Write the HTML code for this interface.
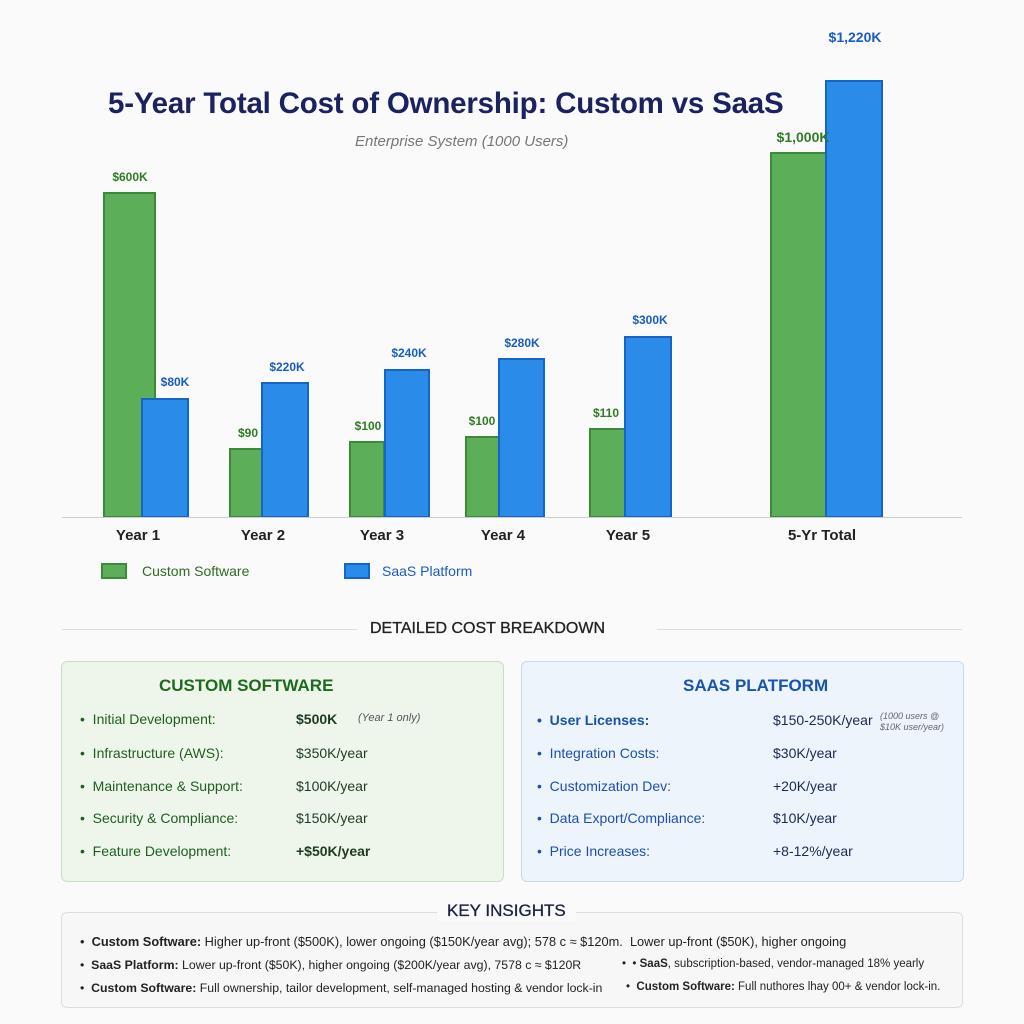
<!DOCTYPE html><html><head><style>
body{margin:0;width:1024px;height:1024px;background:#fafafa;font-family:"Liberation Sans",sans-serif;position:relative;overflow:hidden}
.a{position:absolute;white-space:nowrap}
.bar{position:absolute;box-sizing:border-box}
.g{background:#5cae58;border:2px solid #3d8a3a}
.b{background:#2b8be8;border:2px solid #1565c8}
.lg{color:#2e7d24;font-weight:bold;font-size:12px;transform:translateX(-50%)}
.lb{color:#1a5cc0;font-weight:bold;font-size:12px;transform:translateX(-50%)}
.xl{font-weight:bold;font-size:15px;color:#222;transform:translateX(-50%);top:527px}
.box{position:absolute;border-radius:6px;box-sizing:border-box}
.row{position:absolute;font-size:14px;white-space:nowrap}
.ki{position:absolute;font-size:12.3px;color:#222;white-space:nowrap}
</style></head><body>
<div class="a" style="left:108px;top:87px;font-size:29.5px;font-weight:bold;color:#1a2260;letter-spacing:-0.2px">5-Year Total Cost of Ownership: Custom vs SaaS</div>
<div class="a" style="left:355px;top:133px;font-size:15px;font-style:italic;color:#777">Enterprise System (1000 Users)</div>

<div class="bar g" style="left:103px;top:192px;width:53px;height:326px"></div>
<div class="bar b" style="left:141px;top:398px;width:48px;height:120px"></div>
<div class="bar g" style="left:229px;top:448px;width:35px;height:70px"></div>
<div class="bar b" style="left:261px;top:382px;width:48px;height:136px"></div>
<div class="bar g" style="left:349px;top:441px;width:36px;height:77px"></div>
<div class="bar b" style="left:384px;top:369px;width:46px;height:149px"></div>
<div class="bar g" style="left:465px;top:436px;width:36px;height:82px"></div>
<div class="bar b" style="left:498px;top:358px;width:47px;height:160px"></div>
<div class="bar g" style="left:589px;top:428px;width:37px;height:90px"></div>
<div class="bar b" style="left:624px;top:336px;width:48px;height:182px"></div>
<div class="bar g" style="left:770px;top:152px;width:58px;height:366px"></div>
<div class="bar b" style="left:825px;top:80px;width:58px;height:438px"></div>
<div class="a" style="left:62px;top:517px;width:900px;height:1px;background:#ccc"></div>

<div class="a lg" style="left:130px;top:170px">$600K</div>
<div class="a lb" style="left:175px;top:375px">$80K</div>
<div class="a lg" style="left:248px;top:426px">$90</div>
<div class="a lb" style="left:287px;top:360px">$220K</div>
<div class="a lg" style="left:368px;top:419px">$100</div>
<div class="a lb" style="left:409px;top:346px">$240K</div>
<div class="a lg" style="left:482px;top:414px">$100</div>
<div class="a lb" style="left:522px;top:336px">$280K</div>
<div class="a lg" style="left:606px;top:406px">$110</div>
<div class="a lb" style="left:650px;top:313px">$300K</div>
<div class="a lg" style="left:803px;top:129px;font-size:14px">$1,000K</div>
<div class="a lb" style="left:855px;top:29px;font-size:14px">$1,220K</div>

<div class="a xl" style="left:138px">Year 1</div>
<div class="a xl" style="left:263px">Year 2</div>
<div class="a xl" style="left:382px">Year 3</div>
<div class="a xl" style="left:503px">Year 4</div>
<div class="a xl" style="left:628px">Year 5</div>
<div class="a xl" style="left:822px">5-Yr Total</div>

<div class="bar g" style="left:101px;top:563px;width:26px;height:16px"></div>
<div class="a" style="left:142px;top:563px;font-size:14px;color:#2e6b24">Custom Software</div>
<div class="bar b" style="left:344px;top:563px;width:26px;height:16px"></div>
<div class="a" style="left:382px;top:563px;font-size:14px;color:#1a5cc0">SaaS Platform</div>

<div class="a" style="left:62px;top:629px;width:295px;height:1px;background:#ddd"></div>
<div class="a" style="left:657px;top:629px;width:305px;height:1px;background:#ddd"></div>
<div class="a" style="left:370px;top:620px;font-size:16px;color:#222;-webkit-text-stroke:0.3px #222">DETAILED COST BREAKDOWN</div>

<div class="box" style="left:61px;top:661px;width:443px;height:221px;background:#eef6ec;border:1.5px solid #c9dfc4"></div>
<div class="a" style="left:159px;top:676px;font-size:17px;font-weight:bold;color:#1e6a1e">CUSTOM SOFTWARE</div>
<div class="row" style="left:80px;top:711px;color:#1f5e1f">•&nbsp; Initial Development:</div><div class="row" style="left:296px;top:711px;font-weight:bold;color:#1f3a1f">$500K</div><div class="row" style="left:358px;top:712px;font-size:11px;font-style:italic;color:#555">(Year 1 only)</div>
<div class="row" style="left:80px;top:745px;color:#1f5e1f">•&nbsp; Infrastructure (AWS):</div><div class="row" style="left:296px;top:745px;color:#1f3a1f">$350K/year</div>
<div class="row" style="left:80px;top:778px;color:#1f5e1f">•&nbsp; Maintenance &amp; Support:</div><div class="row" style="left:296px;top:778px;color:#1f3a1f">$100K/year</div>
<div class="row" style="left:80px;top:810px;color:#1f5e1f">•&nbsp; Security &amp; Compliance:</div><div class="row" style="left:296px;top:810px;color:#1f3a1f">$150K/year</div>
<div class="row" style="left:80px;top:843px;color:#1f5e1f">•&nbsp; Feature Development:</div><div class="row" style="left:296px;top:843px;font-weight:bold;color:#1f3a1f">+$50K/year</div>

<div class="box" style="left:521px;top:661px;width:443px;height:221px;background:#edf4fc;border:1.5px solid #c6d9ef"></div>
<div class="a" style="left:683px;top:676px;font-size:17px;font-weight:bold;color:#1a52b0">SAAS PLATFORM</div>
<div class="row" style="left:537px;top:712px;color:#1a4fae;font-weight:bold">•&nbsp; User Licenses:</div><div class="row" style="left:773px;top:712px;color:#1a2a50">$150-250K/year</div><div class="row" style="left:880px;top:711px;font-size:9px;font-style:italic;color:#666;line-height:11px">(1000 users @<br>$10K user/year)</div>
<div class="row" style="left:537px;top:745px;color:#1a4fae">•&nbsp; Integration Costs:</div><div class="row" style="left:773px;top:745px;color:#1a2a50">$30K/year</div>
<div class="row" style="left:537px;top:778px;color:#1a4fae">•&nbsp; Customization Dev:</div><div class="row" style="left:773px;top:778px;color:#1a2a50">+20K/year</div>
<div class="row" style="left:537px;top:810px;color:#1a4fae">•&nbsp; Data Export/Compliance:</div><div class="row" style="left:773px;top:810px;color:#1a2a50">$10K/year</div>
<div class="row" style="left:537px;top:843px;color:#1a4fae">•&nbsp; Price Increases:</div><div class="row" style="left:773px;top:843px;color:#1a2a50">+8-12%/year</div>

<div class="box" style="left:61px;top:912px;width:902px;height:96px;background:#f7f7f8;border:1.5px solid #ddd"></div>
<div class="a" style="left:437px;top:901px;font-size:17px;color:#1a2240;background:#fafafa;padding:0 10px;-webkit-text-stroke:0.3px #1a2240">KEY INSIGHTS</div>
<div class="ki" style="left:80px;top:934px;font-size:12.8px">•&nbsp; <b>Custom Software:</b> Higher up-front ($500K), lower ongoing ($150K/year avg); 578 c ≈ $120m.&nbsp; Lower up-front ($50K), higher ongoing</div>
<div class="ki" style="left:80px;top:958px">•&nbsp; <b>SaaS Platform:</b> Lower up-front ($50K), higher ongoing ($200K/year avg), 7578 c ≈ $120R</div>
<div class="ki" style="left:622px;top:958px;font-size:11.5px">• &nbsp;• <b>SaaS</b>, subscription-based, vendor-managed 18% yearly</div>
<div class="ki" style="left:80px;top:981px">•&nbsp; <b>Custom Software:</b> Full ownership, tailor development, self-managed hosting &amp; vendor lock-in</div>
<div class="ki" style="left:626px;top:981px;font-size:11.5px">•&nbsp; <b>Custom Software:</b> Full nuthores lhay 00+ &amp; vendor lock-in.</div>
</body></html>
